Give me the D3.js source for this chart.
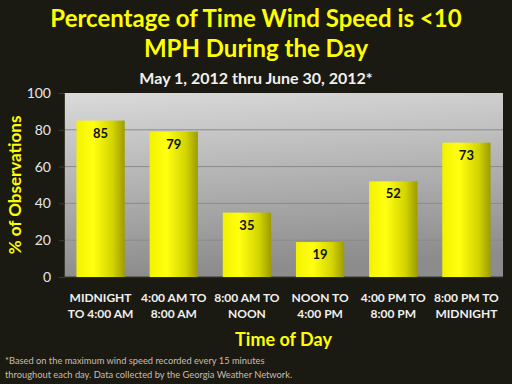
<!DOCTYPE html>
<html>
<head>
<meta charset="utf-8">
<script src="https://cdn.jsdelivr.net/npm/d3@7"></script>
<style>
  body { margin: 0; background: #1b1a12; }
  svg { display: block; font-family: Lato, "Open Sans", sans-serif; }
</style>
</head>
<body>
<div id="chart"></div>
<script>
const categories = [
    ["MIDNIGHT", "TO 4:00 AM"],
    ["4:00 AM TO", "8:00 AM"],
    ["8:00 AM TO", "NOON"],
    ["NOON TO", "4:00 PM"],
    ["4:00 PM TO", "8:00 PM"],
    ["8:00 PM TO", "MIDNIGHT"]
];
const values = [85, 79, 35, 19, 52, 73];
const yTicks = [0, 20, 40, 60, 80, 100];

const width = 512, height = 384;
const margin = { top: 93, right: 9, bottom: 107, left: 64 };

const svg = d3.select("#chart").append("svg")
    .attr("width", width)
    .attr("height", height);

const defs = svg.append("defs");
const bg = defs.append("linearGradient").attr("id", "plotbg")
    .attr("x1", 0).attr("y1", 0).attr("x2", 0.15).attr("y2", 1);
bg.append("stop").attr("offset", "0%").attr("stop-color", "#dadada");
bg.append("stop").attr("offset", "100%").attr("stop-color", "#8c8c8c");

const barGrad = defs.append("linearGradient").attr("id", "bargrad")
    .attr("x1", 0).attr("y1", 0).attr("x2", 1).attr("y2", 0);
barGrad.append("stop").attr("offset", "0%").attr("stop-color", "#f2f200");
barGrad.append("stop").attr("offset", "35%").attr("stop-color", "#ffff10");
barGrad.append("stop").attr("offset", "75%").attr("stop-color", "#d4d400");
barGrad.append("stop").attr("offset", "100%").attr("stop-color", "#9c9c00");

svg.append("rect").attr("width", width).attr("height", height).attr("fill", "#1b1a12");

const plotW = width - margin.left - margin.right;
const plotH = height - margin.top - margin.bottom;

const x = d3.scaleBand()
    .domain(d3.range(categories.length))
    .range([margin.left, margin.left + plotW])
    .paddingInner(0.34)
    .paddingOuter(0.17);

const y = d3.scaleLinear()
    .domain([0, 100])
    .range([margin.top + plotH, margin.top]);

// plot area
svg.append("rect")
    .attr("x", margin.left).attr("y", margin.top)
    .attr("width", plotW).attr("height", plotH)
    .attr("fill", "url(#plotbg)");

// gridlines
svg.append("g")
    .selectAll("line")
    .data(yTicks.filter(d => d > 0 && d < 100))
    .join("line")
    .attr("x1", margin.left).attr("x2", margin.left + plotW)
    .attr("y1", d => y(d)).attr("y2", d => y(d))
    .attr("stroke", "#8a8a8a").attr("stroke-width", 1);

// y axis
const yAxis = svg.append("g")
    .attr("transform", `translate(${margin.left},0)`)
    .call(d3.axisLeft(y).tickValues(yTicks).tickSize(5).tickPadding(8));
yAxis.select(".domain").attr("stroke", "#3a3a30");
yAxis.selectAll(".tick line").attr("stroke", "#3a3a30");
yAxis.selectAll(".tick text")
    .attr("fill", "#e6e6e6")
    .attr("font-size", 14)
    .attr("font-family", "Lato, sans-serif");

// x axis line
svg.append("line")
    .attr("x1", margin.left).attr("x2", margin.left + plotW)
    .attr("y1", y(0)).attr("y2", y(0))
    .attr("stroke", "#3a3a30");

// bars
svg.append("g")
    .selectAll("rect")
    .data(values)
    .join("rect")
    .attr("x", (d, i) => x(i))
    .attr("y", d => y(d))
    .attr("width", x.bandwidth())
    .attr("height", d => y(0) - y(d))
    .attr("fill", "url(#bargrad)");

// value labels
svg.append("g")
    .selectAll("text")
    .data(values)
    .join("text")
    .attr("x", (d, i) => x(i) + x.bandwidth() / 2)
    .attr("y", d => y(d) + 17)
    .attr("text-anchor", "middle")
    .attr("font-size", 13)
    .attr("font-weight", "bold")
    .attr("fill", "#111")
    .text(d => d);

// category labels
const catG = svg.append("g")
    .selectAll("text")
    .data(categories)
    .join("text")
    .attr("text-anchor", "middle")
    .attr("font-size", 12)
    .attr("font-weight", "bold")
    .attr("fill", "#f0f0f0");
catG.each(function (d, i) {
    const t = d3.select(this);
    d.forEach((line, j) => {
        t.append("tspan")
            .attr("x", x(i) + x.bandwidth() / 2)
            .attr("y", 302 + j * 16)
            .text(line);
    });
});

// titles
const title = svg.append("text")
    .attr("text-anchor", "middle")
    .attr("font-size", 24)
    .attr("font-weight", "bold")
    .attr("fill", "#ffff00");
title.append("tspan").attr("x", width / 2).attr("y", 27).text("Percentage of Time Wind Speed is <10");
title.append("tspan").attr("x", width / 2).attr("y", 57).text("MPH During the Day");

svg.append("text")
    .attr("x", width / 2).attr("y", 84)
    .attr("text-anchor", "middle")
    .attr("font-size", 16)
    .attr("font-weight", "bold")
    .attr("fill", "#f0f0f0")
    .text("May 1, 2012 thru June 30, 2012*");

svg.append("text")
    .attr("transform", `translate(21,${margin.top + plotH / 2}) rotate(-90)`)
    .attr("text-anchor", "middle")
    .attr("font-size", 17)
    .attr("font-weight", "bold")
    .attr("fill", "#ffff00")
    .text("% of Observations");

svg.append("text")
    .attr("x", margin.left + plotW / 2).attr("y", 346)
    .attr("text-anchor", "middle")
    .attr("font-size", 18)
    .attr("font-weight", "bold")
    .attr("fill", "#ffff00")
    .text("Time of Day");

const foot = svg.append("text")
    .attr("font-size", 9.3)
    .attr("fill", "#cbbab0");
foot.append("tspan").attr("x", 5).attr("y", 364)
    .text("*Based on the maximum wind speed recorded every 15 minutes");
foot.append("tspan").attr("x", 5).attr("y", 378)
    .text("throughout each day. Data collected by the  Georgia Weather Network.");
</script>
</body>
</html>
